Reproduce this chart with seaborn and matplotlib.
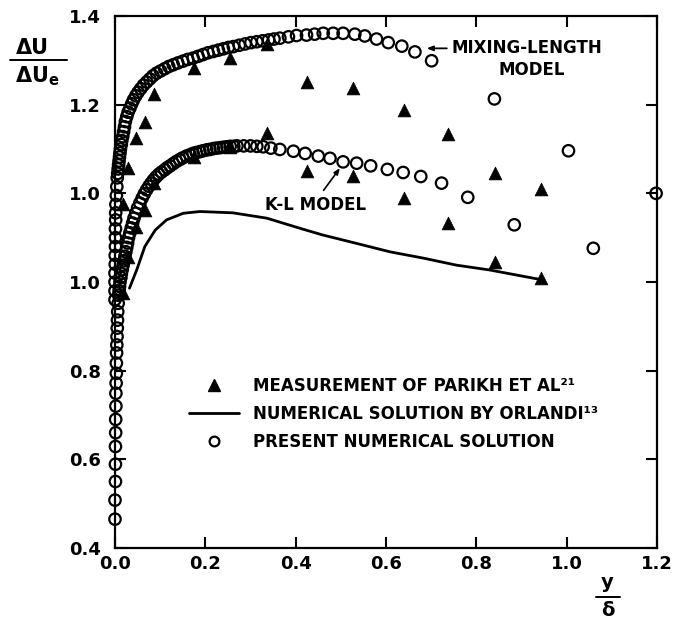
import matplotlib
matplotlib.use("Agg")
import matplotlib.pyplot as plt
from matplotlib.lines import Line2D
import numpy as np
import pandas as pd
import seaborn as sns

# ---- data -------------------------------------------------------------
# Measurements of Parikh et al. (y/delta, dU/dUe)
parikh_x = [0.018, 0.028, 0.046, 0.066, 0.086, 0.175, 0.255, 0.336,
            0.425, 0.527, 0.640, 0.737, 0.841, 0.943]
parikh_y = [0.975, 1.057, 1.125, 1.162, 1.223, 1.283, 1.305, 1.336,
            1.251, 1.238, 1.189, 1.133, 1.045, 1.009]

# Numerical solution by Orlandi
orlandi_x = [0.032, 0.048, 0.066, 0.089, 0.114, 0.151, 0.188, 0.261,
             0.336, 0.410, 0.460, 0.535, 0.609, 0.682, 0.756, 0.830, 0.945]
orlandi_y = [0.986, 1.027, 1.080, 1.117, 1.140, 1.155, 1.159, 1.156,
             1.144, 1.121, 1.106, 1.087, 1.068, 1.054, 1.038, 1.027, 1.005]

# Present numerical solution, K-L model
kl_x = [0.000, 0.000, 0.001, 0.001, 0.001, 0.0015, 0.0015, 0.002, 0.002,
        0.0025, 0.003, 0.003, 0.0035, 0.004, 0.0045, 0.005, 0.0055, 0.006,
        0.007, 0.008, 0.009, 0.010, 0.011, 0.013, 0.014, 0.016, 0.018,
        0.020, 0.022, 0.024, 0.026, 0.028, 0.030, 0.033, 0.036, 0.039,
        0.042, 0.046, 0.050, 0.055, 0.060, 0.065, 0.070, 0.075, 0.080,
        0.085, 0.091, 0.097, 0.103, 0.110, 0.116, 0.122, 0.129, 0.136,
        0.143, 0.150, 0.158, 0.166, 0.173, 0.180, 0.188, 0.195, 0.203,
        0.210, 0.218, 0.225, 0.233, 0.240, 0.248, 0.255, 0.263, 0.270,
        0.285, 0.300, 0.314, 0.328, 0.345, 0.365, 0.395, 0.421, 0.450,
        0.476, 0.505, 0.535, 0.566, 0.603, 0.638, 0.677, 0.723, 0.781,
        0.884, 1.059]
kl_y = [0.465, 0.508, 0.550, 0.589, 0.629, 0.660, 0.690, 0.720, 0.749,
        0.772, 0.794, 0.817, 0.840, 0.858, 0.877, 0.896, 0.914, 0.933,
        0.952, 0.970, 0.980, 0.990, 1.000, 1.010, 1.019, 1.028, 1.038,
        1.048, 1.058, 1.068, 1.078, 1.088, 1.100, 1.111, 1.122, 1.133,
        1.144, 1.155, 1.167, 1.178, 1.189, 1.199, 1.208, 1.216, 1.223,
        1.230, 1.237, 1.243, 1.248, 1.253, 1.258, 1.262, 1.267, 1.272,
        1.276, 1.280, 1.284, 1.287, 1.290, 1.292, 1.294, 1.296, 1.298,
        1.299, 1.301, 1.302, 1.303, 1.304, 1.305, 1.306, 1.306, 1.307,
        1.307, 1.307, 1.306, 1.305, 1.302, 1.299, 1.295, 1.290, 1.284,
        1.279, 1.271, 1.268, 1.262, 1.254, 1.247, 1.238, 1.223, 1.191,
        1.129, 1.076]

# Present numerical solution, mixing-length model
ml_x = [0.000, 0.000, 0.000, 0.000, 0.0005, 0.0005, 0.001, 0.001, 0.001,
        0.0015, 0.0015, 0.002, 0.003, 0.004, 0.005, 0.006, 0.007, 0.008,
        0.009, 0.010, 0.011, 0.012, 0.014, 0.015, 0.017, 0.019, 0.021,
        0.023, 0.026, 0.029, 0.033, 0.037, 0.041, 0.046, 0.051, 0.057,
        0.063, 0.070, 0.077, 0.084, 0.092, 0.101, 0.110, 0.119, 0.129,
        0.139, 0.150, 0.161, 0.173, 0.184, 0.195, 0.206, 0.218, 0.229,
        0.240, 0.251, 0.262, 0.275, 0.288, 0.301, 0.314, 0.327, 0.340,
        0.352, 0.365, 0.384, 0.402, 0.424, 0.442, 0.461, 0.483, 0.505,
        0.531, 0.553, 0.579, 0.605, 0.635, 0.664, 0.701, 0.840, 1.004,
        1.198]
ml_y = [0.760, 0.780, 0.800, 0.820, 0.840, 0.860, 0.880, 0.900, 0.920,
        0.940, 0.956, 0.975, 0.995, 1.015, 1.035, 1.045, 1.055, 1.064,
        1.073, 1.082, 1.091, 1.100, 1.110, 1.119, 1.128, 1.139, 1.150,
        1.162, 1.173, 1.183, 1.192, 1.202, 1.211, 1.220, 1.228, 1.236,
        1.244, 1.251, 1.258, 1.265, 1.271, 1.276, 1.281, 1.286, 1.290,
        1.294, 1.298, 1.302, 1.305, 1.309, 1.313, 1.317, 1.320, 1.323,
        1.326, 1.329, 1.331, 1.334, 1.337, 1.340, 1.342, 1.344, 1.346,
        1.348, 1.350, 1.353, 1.356, 1.357, 1.359, 1.361, 1.361, 1.361,
        1.359, 1.355, 1.348, 1.340, 1.332, 1.319, 1.299, 1.213, 1.096,
        1.000]

# The mixing-length group is drawn on a raised scale (its 1.0 sits at 1.2)
ML_SHIFT = 0.2

y_ticks = [0.4, 0.6, 0.8, 1.0, 1.2, 1.4, 1.6]
y_tick_labels = ["0.4", "0.6", "0.8", "1.0", "1.0", "1.2", "1.4"]
x_ticks = [0.0, 0.2, 0.4, 0.6, 0.8, 1.0, 1.2]
x_tick_labels = ["0.0", "0.2", "0.4", "0.6", "0.8", "1.0", "1.2"]

legend_labels = ["MEASUREMENT OF PARIKH ET AL²¹",
                 "NUMERICAL SOLUTION BY ORLANDI¹³",
                 "PRESENT NUMERICAL SOLUTION"]

# ---- frames -------------------------------------------------------------
parikh = pd.DataFrame({"x": parikh_x, "y": parikh_y})
parikh_up = parikh.assign(y=parikh["y"] + ML_SHIFT)
orlandi = pd.DataFrame({"x": orlandi_x, "y": orlandi_y})
kl = pd.DataFrame({"x": kl_x, "y": kl_y})
ml = pd.DataFrame({"x": ml_x, "y": ml_y})
ml["y"] = ml["y"] + ML_SHIFT

# ---- figure -------------------------------------------------------------
sns.set_theme(style="ticks")
plt.rcParams["font.family"] = ["DejaVu Sans"]
plt.rcParams["font.weight"] = "bold"
plt.rcParams["text.color"] = "black"
plt.rcParams["axes.labelcolor"] = "black"
plt.rcParams["xtick.color"] = "black"
plt.rcParams["ytick.color"] = "black"

W, H = 673, 628
fig = plt.figure(figsize=(W / 100, H / 100), dpi=100)
ax = fig.add_axes([115 / W, 80 / H, 542 / W, 532 / H])

circle_kw = dict(marker="o", s=68, facecolor="none", edgecolor="black",
                 linewidth=1.6, legend=False, clip_on=False, zorder=3)
tri_kw = dict(marker="^", s=85, color="black", edgecolor="black",
              linewidth=0.5, legend=False, zorder=4)

sns.scatterplot(data=kl, x="x", y="y", ax=ax, **circle_kw)
sns.scatterplot(data=ml, x="x", y="y", ax=ax, **circle_kw)
sns.lineplot(data=orlandi, x="x", y="y", ax=ax, color="black", lw=2.0,
             estimator=None, sort=False, zorder=2)
sns.scatterplot(data=parikh, x="x", y="y", ax=ax, **tri_kw)
sns.scatterplot(data=parikh_up, x="x", y="y", ax=ax, **tri_kw)

ax.set_xlim(0.0, 1.2)
ax.set_ylim(0.4, 1.6)
ax.set_xticks(x_ticks)
ax.set_xticklabels(x_tick_labels, fontweight="bold")
ax.set_yticks(y_ticks)
ax.set_yticklabels(y_tick_labels, fontweight="bold")
ax.set_xlabel("")
ax.set_ylabel("")

for side in ["left", "right", "top", "bottom"]:
    ax.spines[side].set_visible(True)
    ax.spines[side].set_linewidth(1.6)
    ax.spines[side].set_color("black")

ax.tick_params(axis="both", which="both", direction="in", length=8,
               width=1.5, top=True, right=True, colors="black",
               labelsize=13)
ax.tick_params(axis="y", pad=10)
ax.tick_params(axis="x", pad=5)

# ---- annotations ------------------------------------------------------
txt_kw = dict(fontsize=12, color="black", fontweight="bold")
ax.annotate("MIXING-LENGTH", xy=(0.690, 1.527), xytext=(0.745, 1.527),
            ha="left", va="center", **txt_kw,
            arrowprops=dict(arrowstyle="-|>,head_length=0.3,head_width=0.12",
                            color="black", lw=1.3, shrinkA=1, shrinkB=0))
ax.text(0.923, 1.478, "MODEL", ha="center", va="center", **txt_kw)

ax.annotate("K-L MODEL", xy=(0.498, 1.257), xytext=(0.332, 1.174),
            ha="left", va="center", **txt_kw,
            arrowprops=dict(arrowstyle="-|>,head_length=0.3,head_width=0.12",
                            color="black", lw=1.2, shrinkA=2, shrinkB=0,
                            relpos=(0.54, 1.0)))

# ---- legend -----------------------------------------------------------
handles = [
    Line2D([], [], marker="^", ls="", color="black", markersize=9),
    Line2D([], [], color="black", lw=2.0),
    Line2D([], [], marker="o", ls="", mfc="none", mec="black",
           markersize=7, mew=1.6),
]
leg = ax.legend(handles, legend_labels, loc="upper left",
                bbox_to_anchor=(0.137, 0.322), frameon=False,
                prop=dict(size=12, weight="bold"),
                handlelength=3.0, handletextpad=0.8, labelspacing=0.6,
                borderpad=0, borderaxespad=0)
for t in leg.get_texts():
    t.set_color("black")

# ---- axis titles as stacked fractions ---------------------------------
fig.text(32 / W, 1 - 48 / H, "ΔU", ha="center", va="center", fontsize=15,
         fontweight="bold", color="black")
fig.text(37 / W, 1 - 76 / H, "ΔU$_\\mathbf{e}$", ha="center",
         va="center", fontsize=15, fontweight="bold", color="black")
fig.add_artist(Line2D([10 / W, 67 / W], [1 - 60 / H, 1 - 60 / H],
                      color="black", lw=1.4, transform=fig.transFigure))

fig.text(607 / W, 1 - 583 / H, "y", ha="center", va="center", fontsize=14,
         fontweight="bold", color="black")
fig.text(608 / W, 1 - 611 / H, "δ", ha="center", va="center", fontsize=14,
         fontweight="bold", color="black")
fig.add_artist(Line2D([596 / W, 620 / W], [1 - 597 / H, 1 - 597 / H],
                      color="black", lw=1.4, transform=fig.transFigure))

fig.savefig("out.png", dpi=100, facecolor="white")
